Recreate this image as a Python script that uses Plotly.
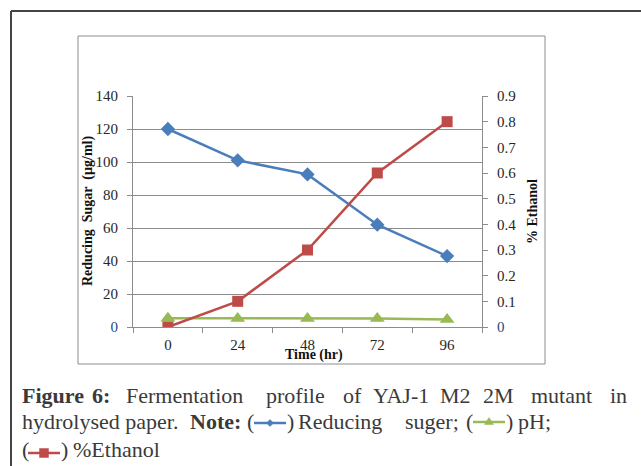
import plotly.graph_objects as go

# ---- data ----
time_labels = ["0", "24", "48", "72", "96"]
reducing_sugar = [120, 101, 92.5, 62, 43]
ph = [5.3, 5.2, 5.2, 5.2, 4.5]
ethanol = [0, 0.1, 0.3, 0.6, 0.8]

left_ticks = [0, 20, 40, 60, 80, 100, 120, 140]
right_ticks = [0, 0.1, 0.2, 0.3, 0.4, 0.5, 0.6, 0.7, 0.8, 0.9]

BLUE = "#4A7EBB"
GREEN = "#98B954"
RED = "#BE4B48"
GRID = "#8C8C8C"
TXT = "#262626"

W, H = 641, 466
L, R, T, B = 133, 482, 96, 327


def px(x):
    return (x - L) / (R - L)


def py(y):
    return (B - y) / (B - T)


fig = go.Figure()
fig.add_trace(go.Scatter(x=time_labels, y=reducing_sugar, mode="lines+markers",
                         line=dict(color=BLUE, width=2.5),
                         marker=dict(symbol="diamond", size=11, color=BLUE),
                         name="Reducing suger"))
fig.add_trace(go.Scatter(x=time_labels, y=ph, mode="lines+markers",
                         line=dict(color=GREEN, width=2.5),
                         marker=dict(symbol="triangle-up", size=13, color=GREEN),
                         name="pH"))
fig.add_trace(go.Scatter(x=time_labels, y=ethanol, mode="lines+markers", yaxis="y2",
                         line=dict(color=RED, width=2.5),
                         marker=dict(symbol="square", size=11, color=RED),
                         name="%Ethanol"))

tick_font = dict(family="Liberation Serif", size=15, color=TXT)

left_text = [("<span style='color:#1F497D'>0</span>" if v == 0 else str(v)) for v in left_ticks]
right_text = [("<span style='color:#1F497D'>0</span>" if v == 0 else f"{v:g}") for v in right_ticks]

fig.update_layout(
    width=W, height=H,
    margin=dict(l=L, r=W - R, t=T, b=H - B),
    paper_bgcolor="white", plot_bgcolor="white",
    showlegend=False,
    xaxis=dict(type="category", range=[-0.5, 4.5], tickson="boundaries",
               showgrid=False, showline=True, linecolor=GRID, linewidth=1,
               ticks="outside", ticklen=5, tickcolor=GRID,
               tickfont=tick_font, ticklabelstandoff=4),
    yaxis=dict(range=[0, 140], tickvals=left_ticks, ticktext=left_text,
               showgrid=True, gridcolor=GRID, gridwidth=1, zeroline=False,
               showline=True, linecolor=GRID, linewidth=1,
               ticks="outside", ticklen=5, tickcolor=GRID,
               tickfont=tick_font, ticklabelstandoff=6),
    yaxis2=dict(range=[0, 0.9], tickvals=right_ticks, ticktext=right_text,
                overlaying="y", side="right", showgrid=False, zeroline=False,
                showline=True, linecolor=GRID, linewidth=1,
                ticks="outside", ticklen=5, tickcolor=GRID,
                tickfont=tick_font, ticklabelstandoff=6),
)

shapes = []
# outer frame (top and left)
shapes.append(dict(type="line", xref="paper", yref="paper", x0=px(11), x1=px(641), y0=py(11), y1=py(11),
                   line=dict(color="#444444", width=2)))
shapes.append(dict(type="line", xref="paper", yref="paper", x0=px(11), x1=px(11), y0=py(11), y1=py(466),
                   line=dict(color="#444444", width=2)))
# chart box
shapes.append(dict(type="rect", xref="paper", yref="paper", x0=px(78), x1=px(545), y0=py(36), y1=py(364),
                   line=dict(color="#8C8C8C", width=1)))


def legend_glyph(x0, x1, y, color, kind):
    shapes.append(dict(type="line", xref="paper", yref="paper", x0=px(x0), x1=px(x1), y0=py(y), y1=py(y),
                       line=dict(color=color, width=2.5)))
    cx = (x0 + x1) / 2
    s = 3.5
    if kind == "diamond":
        pts = [(cx, y - s), (cx + s, y), (cx, y + s), (cx - s, y)]
    elif kind == "triangle":
        pts = [(cx, y - s - 1), (cx + s + 1, y + s - 1), (cx - s - 1, y + s - 1)]
    else:
        pts = [(cx - s - 1, y - s - 1), (cx + s + 1, y - s - 1), (cx + s + 1, y + s + 1), (cx - s - 1, y + s + 1)]
    path = "M " + " L ".join(f"{px(a)},{py(b)}" for a, b in pts) + " Z"
    shapes.append(dict(type="path", xref="paper", yref="paper", path=path,
                       fillcolor=color, line=dict(color=color, width=0.5)))


legend_glyph(254, 286, 423, BLUE, "diamond")
legend_glyph(473, 505, 422, GREEN, "triangle")
legend_glyph(28, 60, 453, RED, "square")

annotations = []


def txt(s, x, y, size=14, xanchor="left", angle=0, bold=False, family="Liberation Serif", color=TXT):
    annotations.append(dict(text=(f"<b>{s}</b>" if bold else s), x=px(x), y=py(y), xref="paper", yref="paper",
                            xanchor=xanchor, yanchor="middle", showarrow=False, textangle=angle,
                            font=dict(family=family, size=size, color=color)))


# axis titles
txt("Reducing  Sugar  (µg/ml)", 88, 211, size=14, xanchor="center", angle=-90, bold=True, color="#111111")
txt("% Ethanol", 532, 212, size=14, xanchor="center", angle=-90, bold=True, color="#111111")
txt("Time (hr)", 314, 355, size=14, xanchor="center", bold=True, color="#111111")

# caption
CAP = 22
CAPC = "#3a3a3a"
line1 = [("Figure", 20, True), ("6:", 90, True), ("Fermentation", 124, False), ("profile", 264, False),
         ("of", 341, False), ("YAJ-1", 371, False), ("M2", 438, False), ("2M", 481, False),
         ("mutant", 529, False), ("in", 608, False)]
for w, x, b in line1:
    txt(w, x, 395, size=CAP, bold=b, color=CAPC)

line2 = [("hydrolysed paper.", 20, False), ("Note:", 188, True), ("(", 245, False), (")", 285, False),
         ("Reducing", 296, False), ("suger;", 403, False), ("(", 464, False), (")", 504, False),
         ("pH;", 516, False)]
for w, x, b in line2:
    txt(w, x, 421, size=CAP, bold=b, color=CAPC)

line3 = [("(", 20, False), (")", 59, False), ("%Ethanol", 71, False)]
for w, x, b in line3:
    txt(w, x, 450, size=CAP, bold=b, color=CAPC)

fig.update_layout(shapes=shapes, annotations=annotations)
fig.write_html("out.html", config={"displayModeBar": False},
               post_script="document.body.style.margin='0';document.body.style.padding='0';"
                           "document.body.style.overflow='hidden';")
